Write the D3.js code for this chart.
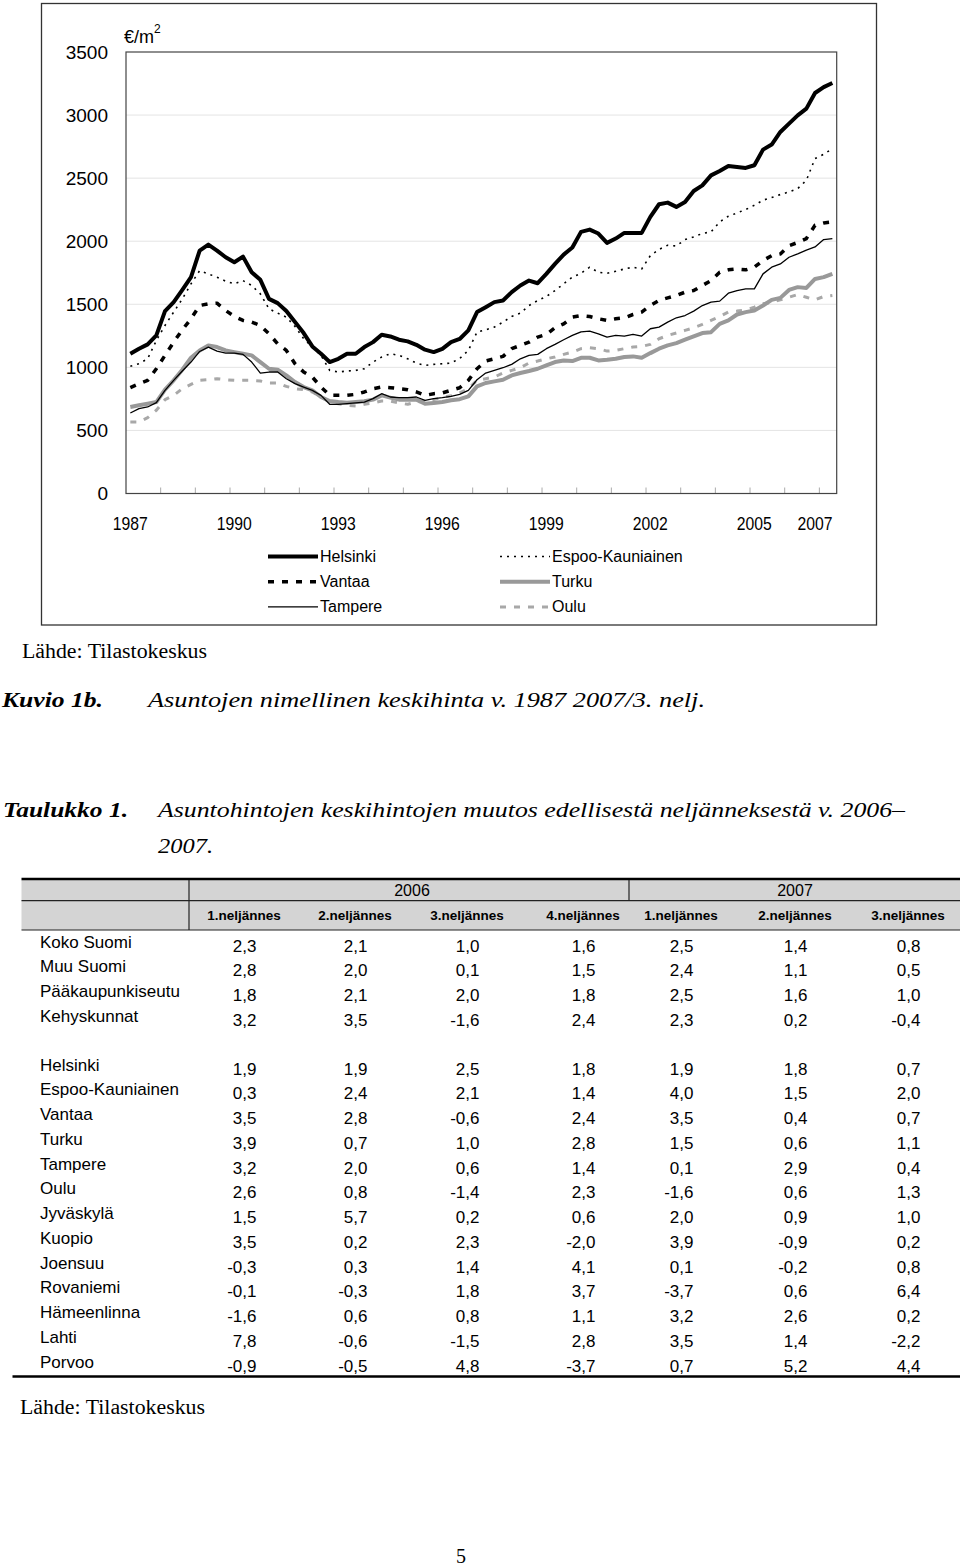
<!DOCTYPE html>
<html><head><meta charset="utf-8">
<script src="https://cdn.jsdelivr.net/npm/d3@7"></script>
<style>
html,body{margin:0;padding:0;background:#fff;}
svg{display:block;}
</style></head>
<body>
<script>
// ---------- DATA ----------
const seriesNames = ["Helsinki","Espoo-Kauniainen","Vantaa","Turku","Tampere","Oulu"];
const helsinki = [1108,1147,1182,1253,1446,1517,1614,1715,1926,1973,1926,1873,1833,1878,1754,1694,1543,1509,1446,1359,1272,1166,1108,1042,1068,1108,1108,1161,1200,1258,1245,1219,1206,1179,1140,1121,1147,1200,1225,1293,1438,1477,1517,1530,1596,1649,1688,1667,1741,1820,1894,1950,2074,2092,2061,1987,2021,2066,2066,2066,2193,2293,2306,2272,2311,2398,2443,2522,2557,2597,2589,2581,2602,2726,2766,2866,2932,2998,3051,3175,3222,3254];
const espoo = [1008,1029,1068,1213,1332,1438,1543,1662,1767,1741,1715,1683,1662,1688,1649,1583,1464,1430,1398,1324,1227,1161,1095,976,963,971,976,989,1042,1082,1108,1095,1068,1034,1016,1024,1029,1034,1070,1134,1280,1298,1319,1359,1403,1430,1490,1530,1562,1609,1662,1715,1746,1794,1754,1746,1762,1780,1794,1780,1886,1935,1968,1962,2013,2034,2061,2074,2153,2198,2224,2251,2285,2325,2346,2370,2391,2417,2483,2655,2689,2734];
const vantaa = [839,870,897,989,1095,1200,1298,1385,1490,1504,1509,1451,1403,1372,1359,1332,1266,1187,1134,1029,963,923,844,778,778,778,786,805,831,844,839,831,823,805,778,791,797,818,838,897,989,1050,1068,1087,1148,1174,1200,1240,1261,1314,1345,1398,1411,1403,1385,1372,1385,1393,1419,1438,1490,1530,1551,1570,1596,1609,1649,1688,1754,1773,1780,1773,1794,1847,1886,1899,1965,1990,2021,2127,2145,2153];
const tampere = [638,673,686,720,818,897,971,1042,1126,1161,1129,1113,1113,1103,1042,955,963,963,910,871,844,818,778,707,707,712,718,725,752,791,765,760,760,765,739,752,760,770,786,818,902,955,976,997,1024,1068,1095,1103,1148,1182,1219,1253,1282,1287,1266,1240,1253,1248,1261,1248,1306,1319,1359,1393,1411,1446,1490,1517,1525,1588,1609,1622,1622,1741,1794,1820,1873,1900,1930,1955,2013,2021];
const turku = [686,699,712,725,823,897,981,1076,1134,1174,1161,1134,1121,1108,1095,1042,989,981,936,884,844,818,765,733,725,720,725,731,744,778,760,744,744,744,712,718,725,739,748,770,849,876,889,902,936,955,971,989,1016,1042,1055,1050,1076,1076,1055,1060,1068,1082,1087,1076,1113,1148,1174,1192,1219,1245,1272,1279,1345,1372,1419,1438,1451,1490,1535,1551,1614,1636,1630,1701,1715,1741];
const oulu = [567,567,601,660,744,778,831,865,897,902,910,902,897,897,897,892,876,876,849,831,823,805,765,725,712,699,694,707,718,733,733,718,707,725,733,744,760,776,798,831,897,910,923,955,976,997,1034,1050,1068,1082,1103,1121,1148,1155,1148,1129,1134,1148,1161,1166,1182,1227,1253,1272,1293,1314,1340,1372,1403,1438,1446,1456,1477,1504,1517,1535,1556,1577,1556,1535,1562,1570];

const yTicks = [0,500,1000,1500,2000,2500,3000,3500];
const xTickLabels = ["1987","1990","1993","1996","1999","2002","2005","2007"];
const xTickCats = ["1987/2","1990/2","1993/2","1996/2","1999/2","2002/2","2005/2","2007/1"];

// quarters 1987/2 .. 2007/3
const categories = [];
for (let y = 1987; y <= 2007; y++) for (let q = 1; q <= 4; q++) {
  if ((y === 1987 && q < 2) || (y === 2007 && q > 3)) continue;
  categories.push(y + "/" + q);
}

const quarterHeaders = ["1.neljännes","2.neljännes","3.neljännes","4.neljännes","1.neljännes","2.neljännes","3.neljännes"];
const yearHeaders = ["2006","2007"];
const tableLabels1 = ["Koko Suomi","Muu Suomi","Pääkaupunkiseutu","Kehyskunnat"];
const tableValues1 = [
  [2.3,2.1,1.0,1.6,2.5,1.4,0.8],
  [2.8,2.0,0.1,1.5,2.4,1.1,0.5],
  [1.8,2.1,2.0,1.8,2.5,1.6,1.0],
  [3.2,3.5,-1.6,2.4,2.3,0.2,-0.4]
];
const tableLabels2 = ["Helsinki","Espoo-Kauniainen","Vantaa","Turku","Tampere","Oulu","Jyväskylä","Kuopio","Joensuu","Rovaniemi","Hämeenlinna","Lahti","Porvoo"];
const tableValues2 = [
  [1.9,1.9,2.5,1.8,1.9,1.8,0.7],
  [0.3,2.4,2.1,1.4,4.0,1.5,2.0],
  [3.5,2.8,-0.6,2.4,3.5,0.4,0.7],
  [3.9,0.7,1.0,2.8,1.5,0.6,1.1],
  [3.2,2.0,0.6,1.4,0.1,2.9,0.4],
  [2.6,0.8,-1.4,2.3,-1.6,0.6,1.3],
  [1.5,5.7,0.2,0.6,2.0,0.9,1.0],
  [3.5,0.2,2.3,-2.0,3.9,-0.9,0.2],
  [-0.3,0.3,1.4,4.1,0.1,-0.2,0.8],
  [-0.1,-0.3,1.8,3.7,-3.7,0.6,6.4],
  [-1.6,0.6,0.8,1.1,3.2,2.6,0.2],
  [7.8,-0.6,-1.5,2.8,3.5,1.4,-2.2],
  [-0.9,-0.5,4.8,-3.7,0.7,5.2,4.4]
];

// ---------- DRAW ----------
const W = 960, H = 1567;
const svg = d3.select("body").append("svg").attr("width", W).attr("height", H);
svg.append("rect").attr("width", W).attr("height", H).attr("fill", "#fff");

const SANS = "'Liberation Sans', Arial, Helvetica, sans-serif";
const SERIF = "'Liberation Serif', 'Times New Roman', Times, serif";

// chart frame
svg.append("rect").attr("x", 41.5).attr("y", 3.5).attr("width", 835).attr("height", 621.5)
  .attr("fill", "none").attr("stroke", "#333").attr("stroke-width", 1.3);

const plot = {l: 126, r: 836.7, t: 52, b: 493.5};
const x = d3.scaleBand().domain(categories).range([plot.l, plot.r]).padding(0);
const y = d3.scaleLinear().domain([0, 3500]).range([plot.b, plot.t]);

// gridlines
svg.append("g").selectAll("line").data(yTicks.filter(d => d > 0 && d < 3500)).join("line")
  .attr("x1", plot.l).attr("x2", plot.r)
  .attr("y1", d => y(d)).attr("y2", d => y(d))
  .attr("stroke", "#e4e4e4").attr("stroke-width", 1);

// y axis labels
const yAxis = d3.axisLeft(y).tickValues(yTicks).tickFormat(d3.format("d")).tickSize(0).tickPadding(18);
const gy = svg.append("g").attr("transform", `translate(${plot.l},0)`).call(yAxis);
gy.select(".domain").remove();
gy.selectAll("text").attr("font-family", SANS).attr("font-size", 19).attr("fill", "#000");

// x ticks (every year)
const tickCats = categories.filter((c, i) => i > 0 && i % 4 === 0);
svg.append("g").selectAll("line").data(tickCats).join("line")
  .attr("x1", d => x(d)).attr("x2", d => x(d))
  .attr("y1", plot.b).attr("y2", plot.b - 6)
  .attr("stroke", "#aaa").attr("stroke-width", 1);

// x labels
svg.append("g").selectAll("text").data(xTickCats).join("text")
  .attr("x", d => x(d) + x.bandwidth() / 2)
  .attr("y", 530)
  .attr("text-anchor", "middle")
  .attr("font-family", SANS).attr("font-size", 19)
  .attr("textLength", 35).attr("lengthAdjust", "spacingAndGlyphs")
  .text((d, i) => xTickLabels[i]);

// plot border
svg.append("rect").attr("x", plot.l).attr("y", plot.t)
  .attr("width", plot.r - plot.l).attr("height", plot.b - plot.t)
  .attr("fill", "none").attr("stroke", "#444").attr("stroke-width", 1.2);

// unit label
const unit = svg.append("text").attr("x", 124).attr("y", 43)
  .attr("font-family", SANS).attr("font-size", 18);
unit.append("tspan").text("€/m");
unit.append("tspan").attr("dy", -10).attr("font-size", 12).text("2");

// series
const styles = {
  "Helsinki": {data: helsinki, stroke: "#000", width: 4, dash: null},
  "Espoo-Kauniainen": {data: espoo, stroke: "#000", width: 1.6, dash: "2,5"},
  "Vantaa": {data: vantaa, stroke: "#000", width: 3.5, dash: "6,8"},
  "Turku": {data: turku, stroke: "#999", width: 4, dash: null},
  "Tampere": {data: tampere, stroke: "#000", width: 1.3, dash: null},
  "Oulu": {data: oulu, stroke: "#a8a8a8", width: 3, dash: "6,8"}
};
const drawOrder = ["Oulu","Turku","Tampere","Vantaa","Espoo-Kauniainen","Helsinki"];
const line = d3.line().x((d, i) => x(categories[i]) + x.bandwidth() / 2).y(d => y(d));
drawOrder.forEach(name => {
  const s = styles[name];
  svg.append("path").datum(s.data).attr("d", line)
    .attr("fill", "none").attr("stroke", s.stroke).attr("stroke-width", s.width)
    .attr("stroke-linejoin", "round")
    .attr("stroke-dasharray", s.dash);
});

// legend
const legendItems = [
  {name: "Helsinki", col: 0, row: 0},
  {name: "Vantaa", col: 0, row: 1},
  {name: "Tampere", col: 0, row: 2},
  {name: "Espoo-Kauniainen", col: 1, row: 0},
  {name: "Turku", col: 1, row: 1},
  {name: "Oulu", col: 1, row: 2}
];
const legX = [268, 500], legY0 = 556.5, legDY = 25.2;
const lg = svg.append("g");
legendItems.forEach(it => {
  const s = styles[it.name];
  const lx = legX[it.col], ly = legY0 + it.row * legDY;
  lg.append("line").attr("x1", lx).attr("x2", lx + 50).attr("y1", ly).attr("y2", ly)
    .attr("stroke", s.stroke).attr("stroke-width", s.width).attr("stroke-dasharray", s.dash);
  lg.append("text").attr("x", lx + 52).attr("y", ly + 5.5)
    .attr("font-family", SANS).attr("font-size", 16).text(it.name);
});

// captions
function serif(txt, xx, yy, size, opts) {
  const t = svg.append("text").attr("x", xx).attr("y", yy)
    .attr("font-family", SERIF).attr("font-size", size).text(txt);
  if (opts.italic) t.attr("font-style", "italic");
  if (opts.bold) t.attr("font-weight", "bold");
  if (opts.len) t.attr("textLength", opts.len).attr("lengthAdjust", "spacingAndGlyphs");
  return t;
}
serif("Lähde: Tilastokeskus", 22, 658, 20, {len: 185});
serif("Kuvio 1b.", 2, 707, 21, {italic: true, bold: true, len: 101});
serif("Asuntojen nimellinen keskihinta v. 1987 2007/3. nelj.", 148, 707, 21, {italic: true, len: 557});
serif("Taulukko 1.", 3, 817, 21, {italic: true, bold: true, len: 125});
serif("Asuntohintojen keskihintojen muutos edellisestä neljänneksestä v. 2006–", 158, 817, 21, {italic: true, len: 747});
serif("2007.", 158, 853, 21, {italic: true, len: 55});

// ---------- TABLE ----------
const tL = 21.5, tR = 960, hTop = 880, hMid = 900.7, hBot = 930;
const colCenters = [244, 355, 467, 583, 681, 795, 908];
const colRight = colCenters.map(c => c + 12.5);
svg.append("rect").attr("x", tL).attr("y", hTop).attr("width", tR - tL).attr("height", hBot - hTop)
  .attr("fill", "#d4d4d4");
svg.append("line").attr("x1", tL).attr("x2", tR).attr("y1", 879).attr("y2", 879)
  .attr("stroke", "#000").attr("stroke-width", 2.6);
svg.append("line").attr("x1", tL).attr("x2", tR).attr("y1", hMid).attr("y2", hMid)
  .attr("stroke", "#222").attr("stroke-width", 1.2);
svg.append("line").attr("x1", tL).attr("x2", tR).attr("y1", hBot).attr("y2", hBot)
  .attr("stroke", "#222").attr("stroke-width", 1.2);
svg.append("line").attr("x1", 189).attr("x2", 189).attr("y1", hTop).attr("y2", hBot)
  .attr("stroke", "#222").attr("stroke-width", 1.2);
svg.append("line").attr("x1", 629).attr("x2", 629).attr("y1", hTop).attr("y2", hMid)
  .attr("stroke", "#222").attr("stroke-width", 1.2);

const yearCenters = [412, 795];
yearHeaders.forEach((yh, i) => {
  svg.append("text").attr("x", yearCenters[i]).attr("y", 896).attr("text-anchor", "middle")
    .attr("font-family", SANS).attr("font-size", 16).text(yh);
});
quarterHeaders.forEach((qh, i) => {
  svg.append("text").attr("x", colCenters[i]).attr("y", 920).attr("text-anchor", "middle")
    .attr("font-family", SANS).attr("font-size", 13.5).attr("font-weight", "bold").text(qh);
});

const fmt = v => (v < 0 ? "-" : "") + Math.abs(v).toFixed(1).replace(".", ",");
function tableBlock(labels, values, base) {
  labels.forEach((lab, r) => {
    const by = base + r * 24.75;
    svg.append("text").attr("x", 40).attr("y", by).attr("font-family", SANS).attr("font-size", 17).text(lab);
    values[r].forEach((v, c) => {
      svg.append("text").attr("x", colRight[c]).attr("y", by + 4).attr("text-anchor", "end")
        .attr("font-family", SANS).attr("font-size", 17).text(fmt(v));
    });
  });
}
tableBlock(tableLabels1, tableValues1, 947.5);
tableBlock(tableLabels2, tableValues2, 1070.5);

svg.append("line").attr("x1", tL - 9).attr("x2", tR).attr("y1", 1376.5).attr("y2", 1376.5)
  .attr("stroke", "#000").attr("stroke-width", 2.6);

serif("Lähde: Tilastokeskus", 20, 1414, 20, {len: 185});
svg.append("text").attr("x", 461).attr("y", 1563).attr("text-anchor", "middle")
  .attr("font-family", SERIF).attr("font-size", 20).text("5");
</script>
</body></html>
